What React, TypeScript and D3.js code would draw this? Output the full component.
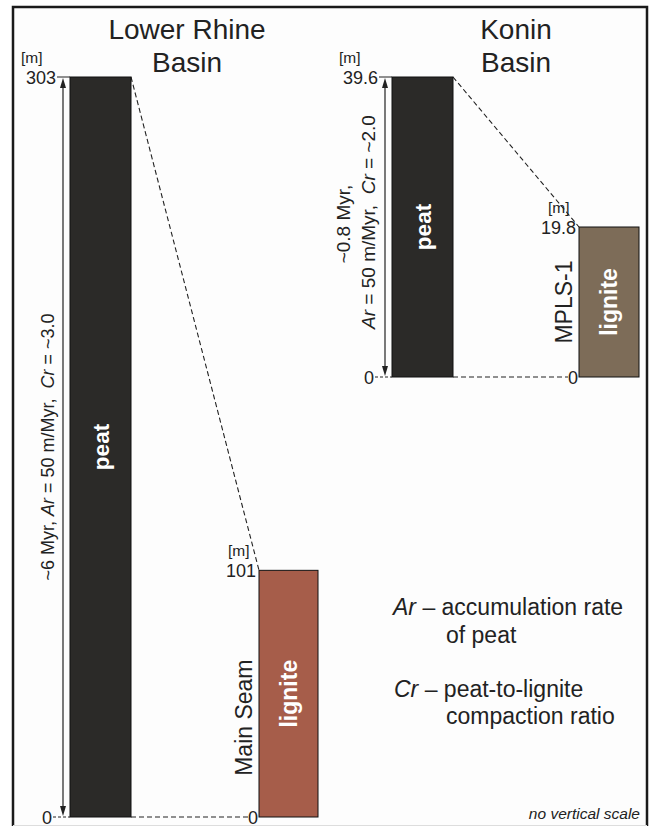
import React from "react";
import * as d3 from "d3";

// basin data: peat thickness (top) and resulting lignite seam thickness, in metres
const basinTitles = [["Lower Rhine", "Basin"], ["Konin", "Basin"]];
const peatThickness = [303, 39.6];
const ligniteThickness = [101, 19.8];
const seamNames = ["Main Seam", "MPLS-1"];
const durations = ["~6 Myr", "~0.8 Myr"];
const accumulationRates = [50, 50];
const compactionRatios = ["~3.0", "~2.0"];

const W = 652;
const H = 827;
const FONT = "'Liberation Sans', Arial, Helvetica, sans-serif";
const INK = "#222";
const PEAT = "#2b2a28";
const LIGNITE = ["#a65d4a", "#7d6c58"];

// per-basin layout (pixels), not data
const layout = [
  { peatX: 70, ligX: 259, barW: 61, ligW: 59, top: 77, bottom: 817, titleX: 187, arrowX: 63, seamDy: 24 },
  { peatX: 392, ligX: 579, barW: 61, ligW: 60, top: 77, bottom: 377, titleX: 516, arrowX: 385, seamDy: 0 },
];

const Arrow = ({ x, y1, y2 }: { x: number; y1: number; y2: number }) => (
  <g>
    <line x1={x} x2={x} y1={y1 + 6} y2={y2 - 6} stroke={INK} strokeWidth={1.2} />
    <path d={`M${x},${y1} L${x - 3},${y1 + 10} L${x + 3},${y1 + 10} Z`} fill={INK} />
    <path d={`M${x},${y2} L${x - 3},${y2 - 10} L${x + 3},${y2 - 10} Z`} fill={INK} />
  </g>
);

const Basin = ({ i }: { i: number }) => {
  const L = layout[i];
  const y = d3.scaleLinear().domain([0, peatThickness[i]]).range([L.bottom, L.top]);
  const peatRight = L.peatX + L.barW;
  const yPeatTop = y(peatThickness[i]);
  const yLigTop = y(ligniteThickness[i]);
  const y0 = y(0);
  const fmt = d3.format("");
  const ligCx = L.ligX + L.ligW / 2;
  const ligCy = (yLigTop + y0) / 2;
  const peatCx = L.peatX + L.barW / 2;
  const peatCy = (yPeatTop + y0) / 2;

  return (
    <g fontFamily={FONT} fill={INK}>
      {/* title */}
      <text x={L.titleX} y={39} textAnchor="middle" fontSize={28}>{basinTitles[i][0]}</text>
      <text x={L.titleX} y={72} textAnchor="middle" fontSize={28}>{basinTitles[i][1]}</text>

      {/* correlation dashes */}
      <line x1={peatRight} y1={yPeatTop} x2={L.ligX} y2={yLigTop} stroke={INK} strokeWidth={1.1} strokeDasharray="5,3" />
      <line x1={peatRight} y1={y0} x2={L.ligX - 11} y2={y0} stroke={INK} strokeWidth={1.1} strokeDasharray="5,3" />

      {/* peat column */}
      <rect x={L.peatX} y={yPeatTop} width={L.barW} height={y0 - yPeatTop} fill={PEAT} stroke="#111" strokeWidth={1} />
      <text transform={`translate(${peatCx + 8},${peatCy}) rotate(-90)`} textAnchor="middle" fontSize={22.5} fontWeight="bold" fill="#fff">peat</text>

      {/* peat axis ticks */}
      <line x1={L.arrowX - 6} x2={L.peatX} y1={yPeatTop} y2={yPeatTop} stroke={INK} strokeWidth={1} />
      <line x1={L.arrowX - 10} x2={L.peatX} y1={y0} y2={y0} stroke={INK} strokeWidth={1} strokeDasharray="3,2" />
      <text x={L.arrowX - 7} y={yPeatTop + 7} textAnchor="end" fontSize={18}>{fmt(peatThickness[i])}</text>
      <text x={L.arrowX - 42 + (i === 0 ? 0 : -4)} y={yPeatTop - 14} fontSize={15.5}>[m]</text>
      <text x={L.arrowX - 11} y={y0 + 7} textAnchor="end" fontSize={18}>0</text>
      <Arrow x={L.arrowX} y1={yPeatTop + 1} y2={y0 - 1} />

      {/* lignite column */}
      <rect x={L.ligX} y={yLigTop} width={L.ligW} height={y0 - yLigTop} fill={LIGNITE[i]} stroke="#111" strokeWidth={1} />
      <text transform={`translate(${ligCx + 8},${ligCy}) rotate(-90)`} textAnchor="middle" fontSize={23} fontWeight="bold" fill="#fff">lignite</text>
      <text transform={`translate(${L.ligX - 7},${ligCy + L.seamDy}) rotate(-90)`} textAnchor="middle" fontSize={23}>{seamNames[i]}</text>
      <text x={L.ligX - 3} y={yLigTop + 7} textAnchor="end" fontSize={18}>{fmt(ligniteThickness[i])}</text>
      <text x={L.ligX - 31} y={yLigTop - 14} fontSize={15.5}>[m]</text>
      <text x={L.ligX - 1} y={y0 + 7} textAnchor="end" fontSize={18}>0</text>

      {/* annotation */}
      {i === 0 ? (
        <text transform={`translate(${L.arrowX - 9},${peatCy}) rotate(-90)`} textAnchor="middle" fontSize={18} style={{ whiteSpace: "pre" }}>
          {`${durations[i]}, `}<tspan fontStyle="italic">Ar</tspan>{` = ${accumulationRates[i]} m/Myr,  `}
          <tspan fontStyle="italic">Cr</tspan>{` = ${compactionRatios[i]}`}
        </text>
      ) : (
        <g>
          <text transform={`translate(${L.arrowX - 35},${peatCy - 3}) rotate(-90)`} textAnchor="middle" fontSize={19}>{`${durations[i]},`}</text>
          <text transform={`translate(${L.arrowX - 10},${peatCy - 5}) rotate(-90)`} textAnchor="middle" fontSize={19} style={{ whiteSpace: "pre" }}>
            <tspan fontStyle="italic">Ar</tspan>{` = ${accumulationRates[i]} m/Myr,  `}
            <tspan fontStyle="italic">Cr</tspan>{` = ${compactionRatios[i]}`}
          </text>
        </g>
      )}
    </g>
  );
};

export default function App() {
  return (
    <svg width={W} height={H} viewBox={`0 0 ${W} ${H}`} style={{ position: "absolute", left: 0, top: 0, background: "#fdfdfd" }}>
      <rect x={0} y={0} width={W} height={H} fill="#fff" />
      <rect x={13} y={7} width={634} height={819} fill="#fdfdfd" stroke="none" />
      <path d="M13,826 L13,7 L647,7 L647,826" fill="none" stroke="#1a1a1a" strokeWidth={2.5} />
      <line x1={13} x2={647} y1={825.5} y2={825.5} stroke="#ddd" strokeWidth={1} />

      <Basin i={0} />
      <Basin i={1} />

      {/* legend */}
      <g fontFamily={FONT} fontSize={23} fill={INK}>
        <text x={393} y={615}><tspan fontStyle="italic">Ar</tspan> – accumulation rate</text>
        <text x={446} y={643}>of peat</text>
        <text x={394} y={697}><tspan fontStyle="italic">Cr</tspan> – peat-to-lignite</text>
        <text x={446} y={724}>compaction ratio</text>
        <text x={640} y={819} textAnchor="end" fontSize={15.5} fontStyle="italic">no vertical scale</text>
      </g>
    </svg>
  );
}
